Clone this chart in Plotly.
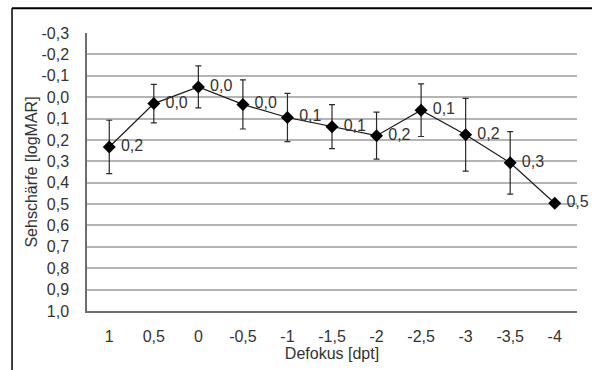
import plotly.graph_objects as go

defocus = ["1", "0,5", "0", "-0,5", "-1", "-1,5", "-2", "-2,5", "-3", "-3,5", "-4"]
visus = [0.233, 0.030, -0.048, 0.034, 0.095, 0.138, 0.180, 0.061, 0.176, 0.307, 0.496]
errors = [0.125, 0.090, 0.098, 0.115, 0.113, 0.103, 0.110, 0.123, 0.170, 0.146, 0.0]
labels = ["0,2", "0,0", "0,0", "0,0", "0,1", "0,1", "0,2", "0,1", "0,2", "0,3", "0,5"]
y_ticks = [-0.3, -0.2, -0.1, 0.0, 0.1, 0.2, 0.3, 0.4, 0.5, 0.6, 0.7, 0.8, 0.9, 1.0]
y_ticktext = ["-0,3", "-0,2", "-0,1", "0,0", "0,1", "0,2", "0,3", "0,4", "0,5", "0,6", "0,7", "0,8", "0,9", "1,0"]

font = dict(family="Liberation Sans, Arial, sans-serif", size=16, color="#333333")

fig = go.Figure()
fig.add_trace(go.Scatter(
    x=defocus, y=visus,
    mode="lines+markers+text",
    text=labels, texttemplate=" %{text}", textposition="middle right",
    textfont=font,
    line=dict(color="#1a1a1a", width=1.2),
    marker=dict(symbol="diamond", size=10, color="black"),
    error_y=dict(type="data", array=errors, visible=True, color="#2a2a2a", thickness=1.2, width=3),
    cliponaxis=False,
    showlegend=False,
))

fig.update_layout(
    width=592, height=370,
    margin=dict(l=87, r=15, t=33, b=55),
    paper_bgcolor="white", plot_bgcolor="white",
    font=font,
    xaxis=dict(
        type="category", range=[-0.5, 10.5],
        showgrid=False, showline=True, linecolor="#6e6e6e", linewidth=2,
        ticks="", ticklabelstandoff=10,
        title=dict(text="Defokus [dpt]", font=font, standoff=2),
        zeroline=False,
    ),
    yaxis=dict(
        range=[1.0, -0.3], tickvals=y_ticks, ticktext=y_ticktext,
        showgrid=True, gridcolor="#b4b4b4", gridwidth=1.5,
        showline=True, linecolor="#6e6e6e", linewidth=1.5,
        ticks="", ticklabelstandoff=13, zeroline=False,
        title=dict(text="Sehschärfe [logMAR]", font=font, standoff=0),
    ),
    shapes=[
        dict(type="line", xref="paper", yref="paper", x0=-0.153, x1=1.2, y0=1.0887, y1=1.0887,
             line=dict(color="black", width=2)),
        dict(type="line", xref="paper", yref="paper", x0=-0.153, x1=-0.153, y0=1.0887, y1=-0.3,
             line=dict(color="black", width=1.5)),
    ],
)

fig.write_html("out.html", config={"displayModeBar": False},
               post_script="document.body.style.margin='0';document.body.style.padding='0';")
